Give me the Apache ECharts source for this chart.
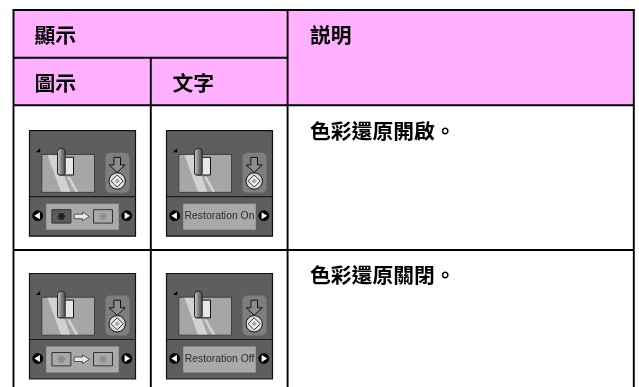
<!DOCTYPE html>
<html><head><meta charset="utf-8">
<style>html,body{margin:0;padding:0;background:#fff}#c{width:639px;height:387px}</style>
<script src="https://cdn.jsdelivr.net/npm/echarts@6/dist/echarts.min.js"></script>
</head><body><div id="c"></div>
<script>
var headerTop = ['顯示', '説明'];
var headerSub = ['圖示', '文字'];
var descriptions = ['色彩還原開啟。', '色彩還原關閉。'];
var iconLabels = ['Restoration On', 'Restoration Off'];
var thumbIsDark = [true, false];

var CJK = '"Noto Sans CJK TC","Noto Sans CJK SC",sans-serif';
var els = [];
function rect(x,y,w,h,fill,stroke,lw,r){els.push({type:'rect',silent:true,shape:{x:x,y:y,width:w,height:h,r:r||0},style:{fill:fill,stroke:stroke||null,lineWidth:lw||0}});}
function line(x1,y1,x2,y2,c,lw){els.push({type:'line',silent:true,shape:{x1:x1,y1:y1,x2:x2,y2:y2},style:{stroke:c,lineWidth:lw}});}
function poly(p,fill,stroke,lw){els.push({type:'polygon',silent:true,shape:{points:p},style:{fill:fill,stroke:stroke||null,lineWidth:lw||0,lineJoin:'miter'}});}
function circ(x,y,r,fill,stroke,lw){els.push({type:'circle',silent:true,shape:{cx:x,cy:y,r:r},style:{fill:fill,stroke:stroke||null,lineWidth:lw||0}});}
function text(x,y,s,size,font,weight,fill,align){els.push({type:'text',silent:true,x:x,y:y,style:{text:s,fontSize:size,fontFamily:font,fontWeight:weight,fill:fill,align:align||'left',verticalAlign:'middle'}});}

function thumb(x,y,dark){
  rect(x,y,19,13.4,dark?'#5c5c5c':'#a8a8a8','#333',1);
  var cx=x+9.5,cy=y+6.7,c=dark?'#1c1c1c':'#8c8c8c';
  for(var i=0;i<6;i++){var a=i*Math.PI/3;circ(cx+2.6*Math.cos(a),cy+2.6*Math.sin(a),1.2,c);}
  circ(cx,cy,1.8,c);
}
function icon(ox,oy,row,isText){
  function X(v){return ox+v;} function Y(v){return oy+v;}
  rect(X(0),Y(0),106,105.5,'#5e5e5e','#111',1.2);
  poly([[X(10.7),Y(17.6)],[X(10.7),Y(21.6)],[X(6.4),Y(21.6)]],'#000');
  rect(X(12.3),Y(23.7),52.7,38,'#a6a6a6','#3e3e3e',1);
  poly([[X(18),Y(24.3)],[X(27.4),Y(24.3)],[X(40.7),Y(61)],[X(31.4),Y(61)]],'#d2d2d2');
  poly([[X(37.4),Y(46)],[X(40.4),Y(46)],[X(48.7),Y(61)],[X(45.7),Y(61)]],'#d2d2d2');
  rect(X(30),Y(26.6),14,17.7,'#e8e8e8','#111',1);
  els.push({type:'rect',silent:true,shape:{x:X(28),y:Y(17.6),width:7.7,height:26.7,r:[3.5,3.5,2,2]},style:{
    fill:new echarts.graphic.LinearGradient(0,0,1,0,[{offset:0,color:'#d8d8d8'},{offset:.55,color:'#7a7a7a'},{offset:1,color:'#4a4a4a'}]),stroke:'#222',lineWidth:1}});
  rect(X(76),Y(22),24,40,'#7e7e7e',null,0,5);
  var c=87.7;
  poly([[X(c-3.3),Y(26.7)],[X(c+3.3),Y(26.7)],[X(c+3.3),Y(34.3)],[X(c+8),Y(34.3)],[X(c),Y(41.7)],[X(c-8),Y(34.3)],[X(c-3.3),Y(34.3)]],'#8e8e8e','#111',1);
  circ(X(c),Y(50.3),8.2,'#dcdcdc','#111',1);
  poly([[X(c),Y(44.3)],[X(c+6),Y(50.3)],[X(c),Y(56.3)],[X(c-6),Y(50.3)]],'#f2f2f2','#333',1);
  poly([[X(c),Y(47.6)],[X(c+2.7),Y(50.3)],[X(c),Y(53)],[X(c-2.7),Y(50.3)]],'#a8a8a8');
  line(X(0),Y(66),X(106),Y(66),'#1a1a1a',1.2);
  rect(X(16.7),Y(73),72.6,26,'#a9a9a9');
  circ(X(8.2),Y(85),5.4,'#000');
  poly([[X(4.8),Y(85)],[X(10.4),Y(81.5)],[X(10.4),Y(88.5)]],'#fff');
  circ(X(97.3),Y(85),5.4,'#000');
  poly([[X(100.7),Y(85)],[X(95.1),Y(81.5)],[X(95.1),Y(88.5)]],'#fff');
  if(isText){
    text(X(53),Y(85.6),iconLabels[row],10.4,'"Liberation Sans",Arial,sans-serif','normal','#2c2c2c','center');
  } else {
    thumb(X(22.4),Y(79),thumbIsDark[row]);
    thumb(X(64),Y(79),false);
    poly([[X(44.7),Y(83.5)],[X(53),Y(83.5)],[X(53),Y(81.4)],[X(60),Y(85.8)],[X(53),Y(90.2)],[X(53),Y(88)],[X(44.7),Y(88)]],'#e8e8e8','#333',.8);
  }
}

var L=13.5,C1=150.8,C2=287.6,R=633.8,T=10,R1=57.8,R2=105.3,R3=250,B=387,FS=20.8;
rect(L,T,R-L,R2-T,'#ffb0ff');
text(34.5,35.5,headerTop[0],FS,CJK,'bold','#000');
text(310,35.5,headerTop[1],FS,CJK,'bold','#000');
text(34.5,83,headerSub[0],FS,CJK,'bold','#000');
text(172.5,83,headerSub[1],FS,CJK,'bold','#000');
[0,1].forEach(function(i){
  var yt=i?R3:R2;
  icon(29.5,i?273.5:130.7,i,false);
  icon(166.5,i?273.5:130.7,i,true);
  text(310,yt+25.5,descriptions[i],FS,CJK,'bold','#000');
});
var K='#000',W=1.9;
line(L-1,T,R+1,T,K,2.2);
line(L,T,L,B,K,W);
line(R,T,R,B,K,W);
line(C2,T,C2,B,K,W);
line(C1,R1,C1,B,K,W);
line(L,R1,C2,R1,K,W);
line(L,R2,R,R2,K,W);
line(L,R3,R,R3,K,W);

var chart=echarts.init(document.getElementById('c'),null,{renderer:'canvas'});
chart.setOption({animation:false,graphic:{elements:els}});
</script></body></html>
